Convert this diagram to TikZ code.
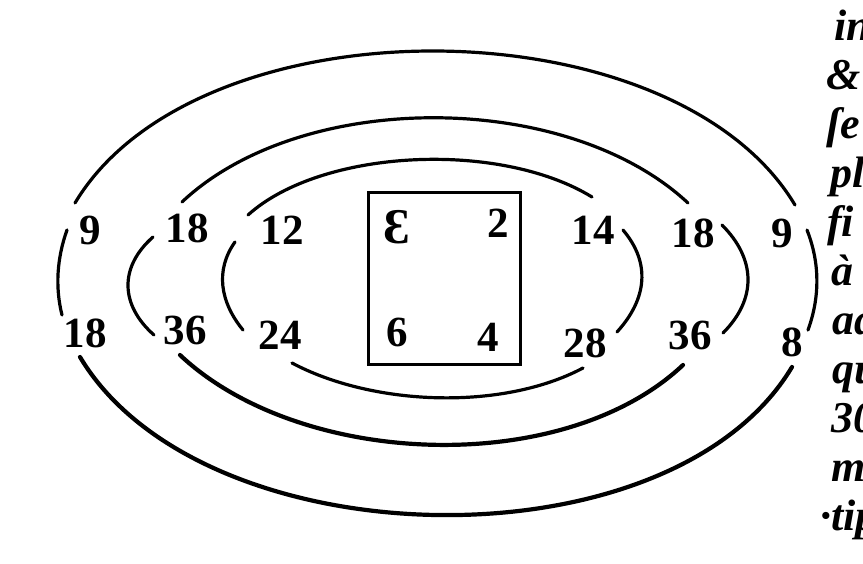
\documentclass[tikz,border=0pt]{standalone}
\usepackage{fontspec}
\setmainfont{Liberation Serif}

\begin{document}
\begin{tikzpicture}[x=1pt, y=1pt,
		numeral/.style={font=\fontsize{43}{43}\selectfont\bfseries, inner sep=1pt},
		word/.style={font=\fontsize{44}{44}\selectfont\bfseries\itshape, anchor=base west, inner sep=0pt},
		ring/.style={line width=3.2pt, line cap=round},
		heavyring/.style={line width=4.2pt, line cap=round}]
		\clip (0, 0) rectangle (863, -563);
		\fill[white] (0, 0) rectangle (863, -563);
		% the box in the middle
		\draw[line width=3pt] (368, -192) rectangle (520, -364);
		% upper row
		\node[numeral] (a1) at (90, -230) {9};
		\node[numeral] (a2) at (187, -228) {18};
		\node[numeral] (a3) at (282, -230) {12};
		\node[numeral, font=\fontsize{50}{50}\selectfont\bfseries] (a4) at (397, -227) {Ɛ};
		\node[numeral] (a5) at (498, -223) {2};
		\node[numeral] (a6) at (593, -230) {14};
		\node[numeral] (a7) at (693, -233) {18};
		\node[numeral] (a8) at (782, -233) {9};
		% lower row
		\node[numeral] (b1) at (85, -333) {18};
		\node[numeral] (b2) at (185, -330) {36};
		\node[numeral] (b3) at (280, -335) {24};
		\node[numeral] (b4) at (397, -332) {6};
		\node[numeral] (b5) at (488, -337) {4};
		\node[numeral] (b6) at (585, -343) {28};
		\node[numeral] (b7) at (690, -335) {36};
		\node[numeral] (b8) at (792, -342) {8};
		% arcs over the top
		\draw[ring] ([shift={(-15,27)}]a1.center) .. controls +(122,204) and +(-122,204) .. ([shift={(13,28)}]a8.center);
		\draw[ring] ([shift={(-5,26)}]a2.center) .. controls +(120,113) and +(-121,113) .. ([shift={(-5,30)}]a7.center);
		\draw[ring] ([shift={(-34,15)}]a3.center) .. controls +(73,66) and +(-93,57) .. ([shift={(-1,33)}]a6.center);
		% arcs under the bottom
		\draw[heavyring] ([shift={(-5,-24)}]b1.center) .. controls +(122,-204) and +(-122,-204) .. ([shift={(0,-25)}]b8.center);
		\draw[heavyring] ([shift={(-5,-25)}]b2.center) .. controls +(120,-113) and +(-120,-113) .. ([shift={(-7,-30)}]b7.center);
		\draw[ring] ([shift={(12,-28)}]b3.center) .. controls +(81,-43) and +(-81,-43) .. ([shift={(-2,-25)}]b6.center);
		% arcs on the left
		\draw[ring] ([shift={(-23,0)}]a1.center) .. controls +(-10,-28) and +(-7,28) .. ([shift={(-23,18)}]b1.center);
		\draw[ring] ([shift={(-34,-9)}]a2.center) .. controls +(-34,-30) and +(-34,30) .. ([shift={(-31,-5)}]b2.center);
		\draw[ring] ([shift={(-47,-12)}]a3.center) .. controls +(-20,-28) and +(-23,28) .. ([shift={(-37,5)}]b3.center);
		% arcs on the right
		\draw[ring] ([shift={(30,0)}]a6.center) .. controls +(28,-33) and +(30,33) .. ([shift={(32,11)}]b6.center);
		\draw[ring] ([shift={(29,8)}]a7.center) .. controls +(34,-34) and +(34,34) .. ([shift={(33,2)}]b7.center);
		\draw[ring] ([shift={(25,3)}]a8.center) .. controls +(13,-33) and +(12,33) .. ([shift={(16,12)}]b8.center);
		% the text column cut off at the right
		\node[word] (w1) at (834, -40) {in};
		\node[word] (w2) at (826, -89) {\&};
		\node[word] (w3) at (826, -138) {ſe};
		\node[word] (w4) at (830, -187) {pl};
		\node[word] (w5) at (827, -236) {fi};
		\node[word] (w6) at (831, -285) {à};
		\node[word] (w7) at (832, -334) {aq};
		\node[word] (w8) at (832, -383) {qu};
		\node[word] (w9) at (831, -432) {30};
		\node[word] (w10) at (831, -481) {m};
		\node[word] (w11) at (820, -530) {·tip};
	\end{tikzpicture}
\end{document}
